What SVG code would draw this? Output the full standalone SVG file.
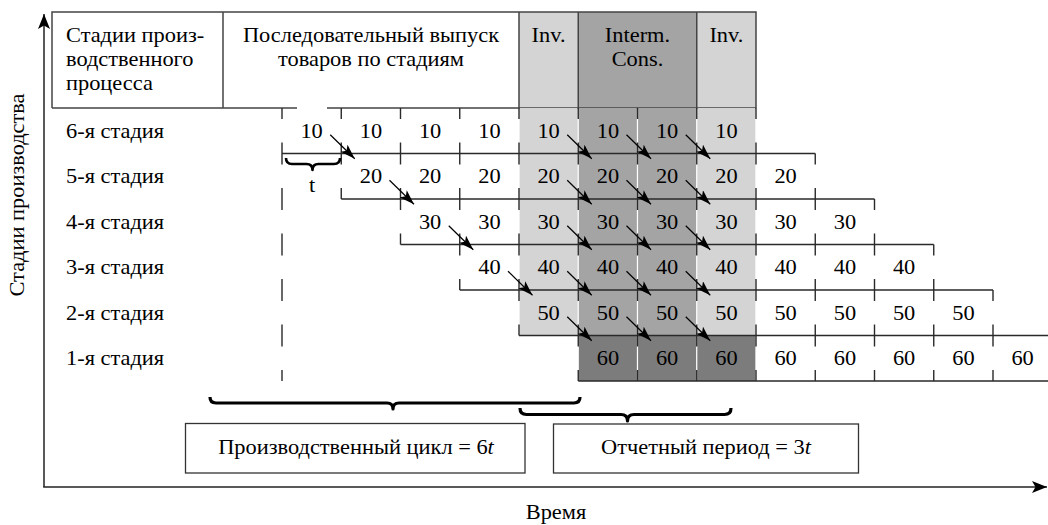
<svg xmlns="http://www.w3.org/2000/svg" width="1048" height="525" viewBox="0 0 1048 525">
<style>
text { font-family: "Liberation Serif", "Times New Roman", serif; font-size: 20px; fill: #000; text-anchor: middle; }
text.s { text-anchor: start; }
.ln { fill: none; stroke: #2a2a2a; stroke-width: 1.4; }
.hd { fill: none; stroke: #444; stroke-width: 1.5; }
.lg { fill: #d4d4d4; }
.md { fill: #a4a4a4; }
.dk { fill: #7c7c7c; }
.ar { fill: none; stroke: #000; stroke-width: 1.2; marker-end: url(#ah); }
.br { fill: none; stroke: #000; stroke-width: 3.2; stroke-linejoin: round; }
.bx { fill: #fff; stroke: #333; stroke-width: 1.3; }
.ax { fill: none; stroke: #222; stroke-width: 1.5; marker-end: url(#axh); }
</style>
<defs>
<marker id="ah" markerUnits="userSpaceOnUse" markerWidth="16" markerHeight="11" refX="15" refY="5" orient="auto" viewBox="0 0 16 11">
<path d="M0,0 L15,5 L0,10 L3.5,5 Z" fill="#000"/>
</marker>
<marker id="axh" markerUnits="userSpaceOnUse" markerWidth="16" markerHeight="13" refX="15" refY="6" orient="auto" viewBox="0 0 16 13">
<path d="M0,0 L15,6 L0,12 L3.5,6 Z" fill="#000"/>
</marker>
</defs>
<rect width="1048" height="525" fill="#fff"/>

<g id="axes">
<path class="ax" d="M44,487 V14"/>
<path class="ax" d="M43.2,487 H1047"/>
<g transform="translate(24,195) rotate(-90) scale(1.12,1)"><text x="0" y="0">Стадии производства</text></g>
<g transform="scale(1.12,1)"><text x="496.43" y="519">Время</text></g>
</g>

<g id="header">
<rect class="lg" x="519" y="12" width="59.25" height="96"/>
<rect class="md" x="578.25" y="12" width="118.5" height="96"/>
<rect class="lg" x="696.75" y="12" width="59.25" height="96"/>
<path class="hd" d="M52,108 V12 H756 V108 M52,108 H297 M327,108 H756 M223,12 V108 M519,12 V108 M578.25,12 V108 M696.75,12 V108"/>
<g transform="scale(1.12,1)">
<text class="s" x="58.93" y="42">Стадии произ-</text>
<text class="s" x="58.93" y="66">водственного</text>
<text class="s" x="58.93" y="90">процесса</text>
<text x="331.25" y="42">Последовательный выпуск</text>
<text x="331.25" y="66">товаров по стадиям</text>
<text x="489.82" y="42">Inv.</text>
<text x="569.2" y="42">Interm.</text>
<text x="569.2" y="66">Cons.</text>
<text x="648.57" y="42">Inv.</text>
</g>
</g>

<g id="shading">
<rect class="lg" x="519.6" y="108" width="58" height="45.5"/><rect class="md" x="578.85" y="108" width="58" height="45.5"/><rect class="md" x="638.1" y="108" width="58" height="45.5"/><rect class="lg" x="697.35" y="108" width="58" height="45.5"/>
<rect class="lg" x="519.6" y="153.5" width="58" height="45.5"/><rect class="md" x="578.85" y="153.5" width="58" height="45.5"/><rect class="md" x="638.1" y="153.5" width="58" height="45.5"/><rect class="lg" x="697.35" y="153.5" width="58" height="45.5"/>
<rect class="lg" x="519.6" y="199" width="58" height="45.5"/><rect class="md" x="578.85" y="199" width="58" height="45.5"/><rect class="md" x="638.1" y="199" width="58" height="45.5"/><rect class="lg" x="697.35" y="199" width="58" height="45.5"/>
<rect class="lg" x="519.6" y="244.5" width="58" height="45.5"/><rect class="md" x="578.85" y="244.5" width="58" height="45.5"/><rect class="md" x="638.1" y="244.5" width="58" height="45.5"/><rect class="lg" x="697.35" y="244.5" width="58" height="45.5"/>
<rect class="lg" x="519.6" y="290" width="58" height="45.5"/><rect class="md" x="578.85" y="290" width="58" height="45.5"/><rect class="md" x="638.1" y="290" width="58" height="45.5"/><rect class="lg" x="697.35" y="290" width="58" height="45.5"/>
<rect class="dk" x="578.85" y="335.5" width="58" height="45.5"/><rect class="dk" x="638.1" y="335.5" width="58" height="45.5"/><rect class="dk" x="697.35" y="335.5" width="58" height="45.5"/>
</g>

<g id="grid">
<path class="ln" d="M282,153.5 H815.25 M341.25,199 H874.5 M400.5,244.5 H933.75 M459.75,290 H993 M519,335.5 H1048 M578.25,381 H1048"/>
<path class="ln" d="
M282,108 V119 M282,142.5 V164.5 M282,188 V210 M282,233.5 V255.5 M282,279 V301 M282,324.5 V346.5 M282,370 V381
M341.25,108 V119 M341.25,142.5 V164.5 M341.25,188 V199
M400.5,108 V119 M400.5,142.5 V164.5 M400.5,188 V210 M400.5,233.5 V244.5
M459.75,108 V119 M459.75,142.5 V164.5 M459.75,188 V210 M459.75,233.5 V255.5 M459.75,279 V290
M519,108 V119 M519,142.5 V164.5 M519,188 V210 M519,233.5 V255.5 M519,279 V301 M519,324.5 V335.5
M578.25,108 V119 M578.25,142.5 V164.5 M578.25,188 V210 M578.25,233.5 V255.5 M578.25,279 V301 M578.25,324.5 V346.5 M578.25,370 V381
M637.5,108 V119 M637.5,142.5 V164.5 M637.5,188 V210 M637.5,233.5 V255.5 M637.5,279 V301 M637.5,324.5 V346.5 M637.5,370 V381
M696.75,108 V119 M696.75,142.5 V164.5 M696.75,188 V210 M696.75,233.5 V255.5 M696.75,279 V301 M696.75,324.5 V346.5 M696.75,370 V381
M756,108 V119 M756,142.5 V164.5 M756,188 V210 M756,233.5 V255.5 M756,279 V301 M756,324.5 V346.5 M756,370 V381
M815.25,153.5 V164.5 M815.25,188 V210 M815.25,233.5 V255.5 M815.25,279 V301 M815.25,324.5 V346.5 M815.25,370 V381
M874.5,199 V210 M874.5,233.5 V255.5 M874.5,279 V301 M874.5,324.5 V346.5 M874.5,370 V381
M933.75,244.5 V255.5 M933.75,279 V301 M933.75,324.5 V346.5 M933.75,370 V381
M993,290 V301 M993,324.5 V346.5 M993,370 V381"/>
</g>

<g id="row6"><g transform="scale(1.12,1)">
<text class="s" x="58.93" y="137.75">6-я стадия</text>
<text x="278.21" y="137.75">10</text><text x="331.16" y="137.75">10</text><text x="384.02" y="137.75">10</text><text x="436.96" y="137.75">10</text><text x="489.82" y="137.75">10</text><text x="542.77" y="137.75">10</text><text x="595.63" y="137.75">10</text><text x="648.57" y="137.75">10</text>
</g></g>
<g id="row5"><g transform="scale(1.12,1)">
<text class="s" x="58.93" y="183.25">5-я стадия</text>
<text x="331.16" y="183.25">20</text><text x="384.02" y="183.25">20</text><text x="436.96" y="183.25">20</text><text x="489.82" y="183.25">20</text><text x="542.77" y="183.25">20</text><text x="595.63" y="183.25">20</text><text x="648.57" y="183.25">20</text><text x="701.43" y="183.25">20</text>
</g></g>
<g id="row4"><g transform="scale(1.12,1)">
<text class="s" x="58.93" y="228.75">4-я стадия</text>
<text x="384.02" y="228.75">30</text><text x="436.96" y="228.75">30</text><text x="489.82" y="228.75">30</text><text x="542.77" y="228.75">30</text><text x="595.63" y="228.75">30</text><text x="648.57" y="228.75">30</text><text x="701.43" y="228.75">30</text><text x="754.38" y="228.75">30</text>
</g></g>
<g id="row3"><g transform="scale(1.12,1)">
<text class="s" x="58.93" y="274.25">3-я стадия</text>
<text x="436.96" y="274.25">40</text><text x="489.82" y="274.25">40</text><text x="542.77" y="274.25">40</text><text x="595.63" y="274.25">40</text><text x="648.57" y="274.25">40</text><text x="701.43" y="274.25">40</text><text x="754.38" y="274.25">40</text><text x="807.23" y="274.25">40</text>
</g></g>
<g id="row2"><g transform="scale(1.12,1)">
<text class="s" x="58.93" y="319.75">2-я стадия</text>
<text x="489.82" y="319.75">50</text><text x="542.77" y="319.75">50</text><text x="595.63" y="319.75">50</text><text x="648.57" y="319.75">50</text><text x="701.43" y="319.75">50</text><text x="754.38" y="319.75">50</text><text x="807.23" y="319.75">50</text><text x="860.18" y="319.75">50</text>
</g></g>
<g id="row1"><g transform="scale(1.12,1)">
<text class="s" x="58.93" y="365.25">1-я стадия</text>
<text x="542.77" y="365.25">60</text><text x="595.63" y="365.25">60</text><text x="648.57" y="365.25">60</text><text x="701.43" y="365.25">60</text><text x="754.38" y="365.25">60</text><text x="807.23" y="365.25">60</text><text x="860.18" y="365.25">60</text><text x="913.04" y="365.25">60</text>
</g></g>

<g id="connectors">
<path class="ar" d="M330.25,134.75 L354.75,158.75"/>
<path class="ar" d="M567.25,134.75 L591.75,158.75"/>
<path class="ar" d="M626.5,134.75 L651,158.75"/>
<path class="ar" d="M685.75,134.75 L710.25,158.75"/>
<path class="ar" d="M389.5,180.25 L414,204.25"/>
<path class="ar" d="M567.25,180.25 L591.75,204.25"/>
<path class="ar" d="M626.5,180.25 L651,204.25"/>
<path class="ar" d="M685.75,180.25 L710.25,204.25"/>
<path class="ar" d="M448.75,225.75 L473.25,249.75"/>
<path class="ar" d="M567.25,225.75 L591.75,249.75"/>
<path class="ar" d="M626.5,225.75 L651,249.75"/>
<path class="ar" d="M685.75,225.75 L710.25,249.75"/>
<path class="ar" d="M508,271.25 L532.5,295.25"/>
<path class="ar" d="M567.25,271.25 L591.75,295.25"/>
<path class="ar" d="M626.5,271.25 L651,295.25"/>
<path class="ar" d="M685.75,271.25 L710.25,295.25"/>
<path class="ar" d="M567.25,316.75 L591.75,340.75"/>
<path class="ar" d="M626.5,316.75 L651,340.75"/>
<path class="ar" d="M685.75,316.75 L710.25,340.75"/>
</g>

<g id="t-brace">
<path class="br" style="stroke-width:2.6" d="M286,158 Q286,164 292,164 L306.5,164 Q312.5,164 312.5,170 Q312.5,164 318.5,164 L334,164 Q340,164 340,158"/>
<g transform="scale(1.12,1)"><text x="278.57" y="192">t</text></g>
</g>

<g id="cycle">
<path class="br" d="M210,397 Q210,403 216,403 L387,403 Q393,403 393,409 Q393,403 399,403 L574,403 Q580,403 580,397"/>
<rect class="bx" x="185.5" y="423.5" width="339.5" height="49.5"/>
<g transform="scale(1.12,1)"><text x="317.86" y="454">Производственный цикл = 6<tspan font-style="italic">t</tspan></text></g>
</g>

<g id="period">
<path class="br" d="M520,408 Q520,414.5 526.5,414.5 L621,414.5 Q627.5,414.5 627.5,421 Q627.5,414.5 634,414.5 L724.5,414.5 Q731,414.5 731,408"/>
<rect class="bx" x="553.5" y="424" width="305" height="49"/>
<g transform="scale(1.12,1)"><text x="630.36" y="454">Отчетный период = 3<tspan font-style="italic">t</tspan></text></g>
</g>
</svg>
